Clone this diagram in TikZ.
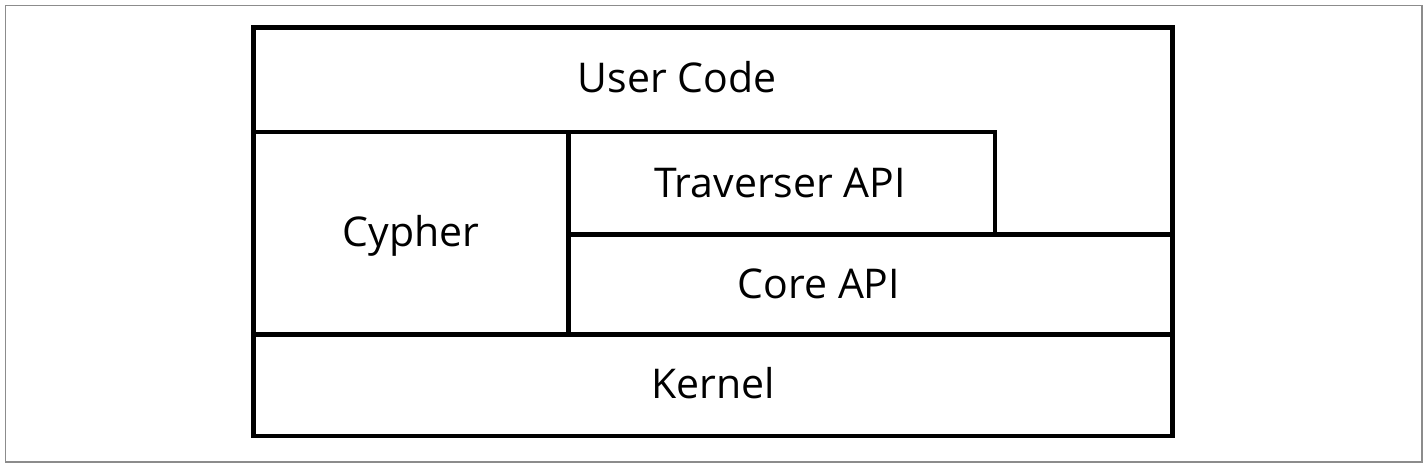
\documentclass[tikz,border=0pt]{standalone}
\usepackage{fontspec}
\setmainfont{Open Sans}
\begin{document}
\begin{tikzpicture}[x=1pt,y=-1pt,
  frame/.style={draw=black!45,line width=1.2pt},
  heavy/.style={draw=black,line width=4.5pt},
  thin/.style={draw=black,line width=3.4pt},
  lbl/.style={anchor=base,inner sep=0pt,font=\fontsize{41}{49}\selectfont}]
\useasboundingbox (0,0) rectangle (1428,472);
\draw[frame] (5.5,5.5) rectangle (1422,462);
% coordinates
\coordinate (TL) at (253.5,27.5);
\coordinate (BR) at (1172.5,436);
\coordinate (sepL) at (253.5,132);
\coordinate (sepM) at (568.5,132);
\coordinate (travR) at (995,132);
\coordinate (travRB) at (995,234.5);
\coordinate (coreL) at (568.5,234.5);
\coordinate (coreR) at (1172.5,234.5);
\coordinate (kerL) at (253.5,334.5);
\coordinate (kerR) at (1172.5,334.5);
\coordinate (cyB) at (568.5,334.5);
% lines
\draw[thin] (sepM) -- (travR) -- (travRB);
\draw[heavy] (sepL) -- (sepM);
\draw[heavy] (sepM) -- (cyB);
\draw[heavy] (coreL) -- (coreR);
\draw[heavy] (kerL) -- (kerR);
\draw[heavy] (TL) rectangle (BR);
% labels
\node[lbl] (user) at (677,92) {User Code};
\node[lbl] (trav) at (780,197) {Traverser API};
\node[lbl] (cyph) at (411,246) {Cypher};
\node[lbl] (core) at (819,298) {Core API};
\node[lbl] (kern) at (713,398) {Kernel};
\end{tikzpicture}
\end{document}
